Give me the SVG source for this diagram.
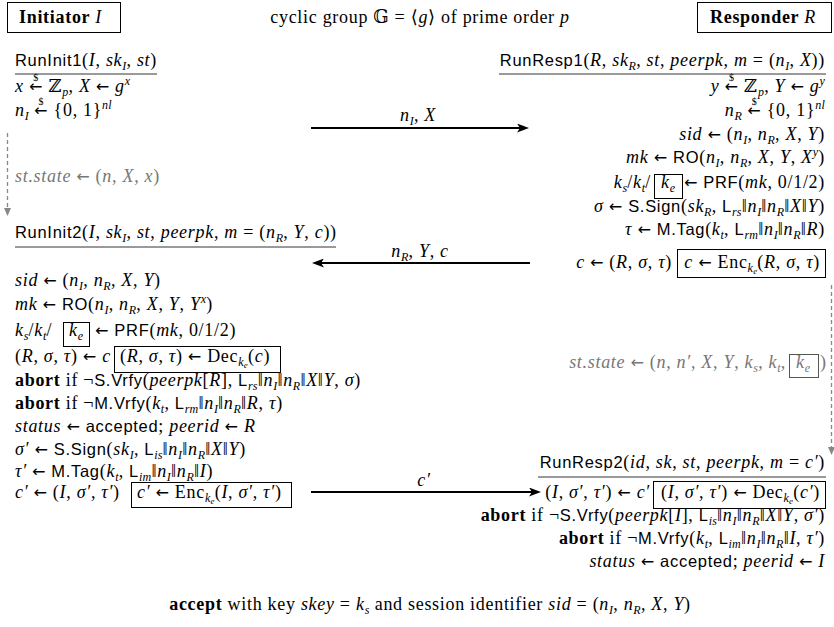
<svg xmlns="http://www.w3.org/2000/svg" width="834" height="627" viewBox="0 0 834 627">
<style>
text { font-family: "Liberation Serif", "DejaVu Serif", "DejaVu Sans", serif; font-size: 18px; letter-spacing: 0.7px; fill: #000; }
.i { font-style: italic; }
.s { font-family: "Liberation Sans", "DejaVu Sans", sans-serif; font-size: 16.5px; font-style: normal; }
.b { font-weight: bold; }
.g { fill: #777; }
.ar { font-family: "DejaVu Sans", sans-serif; font-size: 16px; font-style: normal; }
.sub { font-size: 12px; baseline-shift: -4px; letter-spacing: 0.2px; }
.sup { font-size: 12px; baseline-shift: 7px; letter-spacing: 0.2px; }
.sub2 { font-size: 9px; baseline-shift: -2px; }
.sm { font-size: 10px; font-style: normal; }
.box { fill: none; stroke: #000; stroke-width: 1; }
.gbox { fill: none; stroke: #555; stroke-width: 1; }
.ul { stroke: #000; stroke-width: 0.8; }
.msg { stroke: #000; stroke-width: 2; fill: none; marker-end: url(#ah); }
.dash { stroke: #888; stroke-width: 1.3; stroke-dasharray: 4 3; fill: none; marker-end: url(#gah); }
</style>
<defs>
<marker id="ah" viewBox="0 0 12 9" refX="5" refY="4.5" markerWidth="12" markerHeight="9" markerUnits="userSpaceOnUse" orient="auto"><path d="M0,0 L12,4.5 L0,9 L3,4.5 Z" fill="#000"/></marker>
<marker id="gah" viewBox="0 0 8 7" refX="2" refY="3.5" markerWidth="8" markerHeight="7" markerUnits="userSpaceOnUse" orient="auto"><path d="M0,0 L8,3.5 L0,7 Z" fill="#888"/></marker>
</defs>

<g id="initiator">
<rect class="box" x="7.5" y="2.5" width="113" height="30"/>
<text x="19" y="23"><tspan class="b">Initiator </tspan><tspan class="i">I</tspan></text>
</g>
<g id="group-info">
<text x="420" y="23" text-anchor="middle">cyclic group 𝔾 = ⟨<tspan class="i">g</tspan>⟩ of prime order <tspan class="i">p</tspan></text>
</g>
<g id="responder">
<rect class="box" x="697.5" y="2.5" width="134" height="30"/>
<text x="710" y="23"><tspan class="b">Responder </tspan><tspan class="i">R</tspan></text>
</g>

<g id="init1">
<text x="15" y="66"><tspan class="s">RunInit1</tspan>(<tspan class="i">I</tspan>, <tspan class="i">sk<tspan class="sub">I</tspan></tspan>, <tspan class="i">st</tspan>)</text>
<line class="ul" x1="15" y1="74" x2="157" y2="74"/>
<text x="15" y="92"><tspan class="i">x</tspan> <tspan class="ar">←</tspan><tspan class="sm" dx="-9.7" dy="-11">$</tspan><tspan dx="4.2" dy="11"> ℤ<tspan class="sub i">p</tspan>, </tspan><tspan class="i">X</tspan> <tspan class="ar">←</tspan> <tspan class="i">g<tspan class="sup">x</tspan></tspan></text>
<text x="15" y="116"><tspan class="i">n<tspan class="sub">I</tspan></tspan> <tspan class="ar">←</tspan><tspan class="sm" dx="-9.7" dy="-11">$</tspan><tspan dx="4.2" dy="11"> {0, 1}<tspan class="sup i">nl</tspan></tspan></text>
</g>

<g id="state-I">
<text class="g" x="15" y="182"><tspan class="i">st.state</tspan> <tspan class="ar">←</tspan> (<tspan class="i">n</tspan>, <tspan class="i">X</tspan>, <tspan class="i">x</tspan>)</text>
</g>

<g id="init2">
<text x="15" y="238"><tspan class="s">RunInit2</tspan>(<tspan class="i">I</tspan>, <tspan class="i">sk<tspan class="sub">I</tspan></tspan>, <tspan class="i">st</tspan>, <tspan class="i">peerpk</tspan>, <tspan class="i">m</tspan> = (<tspan class="i">n<tspan class="sub">R</tspan></tspan>, <tspan class="i">Y</tspan>, <tspan class="i">c</tspan>))</text>
<line class="ul" x1="15" y1="247" x2="336" y2="247"/>
<text x="15" y="286"><tspan class="i">sid</tspan> <tspan class="ar">←</tspan> (<tspan class="i">n<tspan class="sub">I</tspan></tspan>, <tspan class="i">n<tspan class="sub">R</tspan></tspan>, <tspan class="i">X</tspan>, <tspan class="i">Y</tspan>)</text>
<text x="15" y="310"><tspan class="i">mk</tspan> <tspan class="ar">←</tspan> <tspan class="s">RO</tspan>(<tspan class="i">n<tspan class="sub">I</tspan></tspan>, <tspan class="i">n<tspan class="sub">R</tspan></tspan>, <tspan class="i">X</tspan>, <tspan class="i">Y</tspan>, <tspan class="i">Y<tspan class="sup">x</tspan></tspan>)</text>
<text x="15" y="336"><tspan class="i">k<tspan class="sub">s</tspan></tspan>/<tspan class="i">k<tspan class="sub">t</tspan></tspan>/</text>
<rect class="box" x="63.5" y="322.5" width="26" height="24"/>
<text class="i" x="69" y="336">k<tspan class="sub">e</tspan></text>
<text x="95" y="336"><tspan class="ar">←</tspan> <tspan class="s">PRF</tspan>(<tspan class="i">mk</tspan>, 0/1/2)</text>
<text x="15" y="362">(<tspan class="i">R</tspan>, <tspan class="i">σ</tspan>, <tspan class="i">τ</tspan>) <tspan class="ar">←</tspan> <tspan class="i">c</tspan></text>
<rect class="box" x="114.5" y="346.5" width="166" height="26"/>
<text x="120" y="362">(<tspan class="i">R</tspan>, <tspan class="i">σ</tspan>, <tspan class="i">τ</tspan>) <tspan class="ar">←</tspan> Dec<tspan class="sub i">k<tspan class="sub2">e</tspan></tspan>(<tspan class="i">c</tspan>)</text>
<text x="15" y="386"><tspan class="b">abort</tspan> if ¬<tspan class="s">S.Vrfy</tspan>(<tspan class="i">peerpk</tspan>[<tspan class="i">R</tspan>], <tspan class="s">L</tspan><tspan class="sub i">rs</tspan>‖<tspan class="i">n<tspan class="sub">I</tspan></tspan>‖<tspan class="i">n<tspan class="sub">R</tspan></tspan>‖<tspan class="i">X</tspan>‖<tspan class="i">Y</tspan>, <tspan class="i">σ</tspan>)</text>
<text x="15" y="409"><tspan class="b">abort</tspan> if ¬<tspan class="s">M.Vrfy</tspan>(<tspan class="i">k<tspan class="sub">t</tspan></tspan>, <tspan class="s">L</tspan><tspan class="sub i">rm</tspan>‖<tspan class="i">n<tspan class="sub">I</tspan></tspan>‖<tspan class="i">n<tspan class="sub">R</tspan></tspan>‖<tspan class="i">R</tspan>, <tspan class="i">τ</tspan>)</text>
<text x="15" y="432"><tspan class="i">status</tspan> <tspan class="ar">←</tspan> <tspan class="s">accepted</tspan>; <tspan class="i">peerid</tspan> <tspan class="ar">←</tspan> <tspan class="i">R</tspan></text>
<text x="15" y="455"><tspan class="i">σ′</tspan> <tspan class="ar">←</tspan> <tspan class="s">S.Sign</tspan>(<tspan class="i">sk<tspan class="sub">I</tspan></tspan>, <tspan class="s">L</tspan><tspan class="sub i">is</tspan>‖<tspan class="i">n<tspan class="sub">I</tspan></tspan>‖<tspan class="i">n<tspan class="sub">R</tspan></tspan>‖<tspan class="i">X</tspan>‖<tspan class="i">Y</tspan>)</text>
<text x="15" y="477"><tspan class="i">τ′</tspan> <tspan class="ar">←</tspan> <tspan class="s">M.Tag</tspan>(<tspan class="i">k<tspan class="sub">t</tspan></tspan>, <tspan class="s">L</tspan><tspan class="sub i">im</tspan>‖<tspan class="i">n<tspan class="sub">I</tspan></tspan>‖<tspan class="i">n<tspan class="sub">R</tspan></tspan>‖<tspan class="i">I</tspan>)</text>
<text x="15" y="498"><tspan class="i">c′</tspan> <tspan class="ar">←</tspan> (<tspan class="i">I</tspan>, <tspan class="i">σ′</tspan>, <tspan class="i">τ′</tspan>)</text>
<rect class="box" x="131.5" y="482.5" width="160" height="25"/>
<text x="137" y="498"><tspan class="i">c′</tspan> <tspan class="ar">←</tspan> Enc<tspan class="sub i">k<tspan class="sub2">e</tspan></tspan>(<tspan class="i">I</tspan>, <tspan class="i">σ′</tspan>, <tspan class="i">τ′</tspan>)</text>
</g>

<g id="resp1">
<text x="825" y="66" text-anchor="end"><tspan class="s">RunResp1</tspan>(<tspan class="i">R</tspan>, <tspan class="i">sk<tspan class="sub">R</tspan></tspan>, <tspan class="i">st</tspan>, <tspan class="i">peerpk</tspan>, <tspan class="i">m</tspan> = (<tspan class="i">n<tspan class="sub">I</tspan></tspan>, <tspan class="i">X</tspan>))</text>
<line class="ul" x1="499" y1="74" x2="826" y2="74"/>
<text x="825" y="92" text-anchor="end"><tspan class="i">y</tspan> <tspan class="ar">←</tspan><tspan class="sm" dx="-9.7" dy="-11">$</tspan><tspan dx="4.2" dy="11"> ℤ<tspan class="sub i">p</tspan>, </tspan><tspan class="i">Y</tspan> <tspan class="ar">←</tspan> <tspan class="i">g<tspan class="sup">y</tspan></tspan></text>
<text x="825" y="116" text-anchor="end"><tspan class="i">n<tspan class="sub">R</tspan></tspan> <tspan class="ar">←</tspan><tspan class="sm" dx="-9.7" dy="-11">$</tspan><tspan dx="4.2" dy="11"> {0, 1}<tspan class="sup i">nl</tspan></tspan></text>
<text x="825" y="140" text-anchor="end"><tspan class="i">sid</tspan> <tspan class="ar">←</tspan> (<tspan class="i">n<tspan class="sub">I</tspan></tspan>, <tspan class="i">n<tspan class="sub">R</tspan></tspan>, <tspan class="i">X</tspan>, <tspan class="i">Y</tspan>)</text>
<text x="825" y="163" text-anchor="end"><tspan class="i">mk</tspan> <tspan class="ar">←</tspan> <tspan class="s">RO</tspan>(<tspan class="i">n<tspan class="sub">I</tspan></tspan>, <tspan class="i">n<tspan class="sub">R</tspan></tspan>, <tspan class="i">X</tspan>, <tspan class="i">Y</tspan>, <tspan class="i">X<tspan class="sup">y</tspan></tspan>)</text>
<text x="651" y="188" text-anchor="end"><tspan class="i">k<tspan class="sub">s</tspan></tspan>/<tspan class="i">k<tspan class="sub">t</tspan></tspan>/</text>
<rect class="box" x="654.5" y="174.5" width="28" height="24"/>
<text class="i" x="661" y="188">k<tspan class="sub">e</tspan></text>
<text x="825" y="188" text-anchor="end"><tspan class="ar">←</tspan> <tspan class="s">PRF</tspan>(<tspan class="i">mk</tspan>, 0/1/2)</text>
<text x="825" y="212" text-anchor="end"><tspan class="i">σ</tspan> <tspan class="ar">←</tspan> <tspan class="s">S.Sign</tspan>(<tspan class="i">sk<tspan class="sub">R</tspan></tspan>, <tspan class="s">L</tspan><tspan class="sub i">rs</tspan>‖<tspan class="i">n<tspan class="sub">I</tspan></tspan>‖<tspan class="i">n<tspan class="sub">R</tspan></tspan>‖<tspan class="i">X</tspan>‖<tspan class="i">Y</tspan>)</text>
<text x="825" y="235" text-anchor="end"><tspan class="i">τ</tspan> <tspan class="ar">←</tspan> <tspan class="s">M.Tag</tspan>(<tspan class="i">k<tspan class="sub">t</tspan></tspan>, <tspan class="s">L</tspan><tspan class="sub i">rm</tspan>‖<tspan class="i">n<tspan class="sub">I</tspan></tspan>‖<tspan class="i">n<tspan class="sub">R</tspan></tspan>‖<tspan class="i">R</tspan>)</text>
<text x="672" y="268" text-anchor="end"><tspan class="i">c</tspan> <tspan class="ar">←</tspan> (<tspan class="i">R</tspan>, <tspan class="i">σ</tspan>, <tspan class="i">τ</tspan>)</text>
<rect class="box" x="677.5" y="249.5" width="148" height="28"/>
<text x="820" y="268" text-anchor="end"><tspan class="i">c</tspan> <tspan class="ar">←</tspan> Enc<tspan class="sub i">k<tspan class="sub2">e</tspan></tspan>(<tspan class="i">R</tspan>, <tspan class="i">σ</tspan>, <tspan class="i">τ</tspan>)</text>
</g>

<g id="state-R">
<text class="g" x="786" y="368" text-anchor="end"><tspan class="i">st.state</tspan> <tspan class="ar">←</tspan> (<tspan class="i">n</tspan>, <tspan class="i">n′</tspan>, <tspan class="i">X</tspan>, <tspan class="i">Y</tspan>, <tspan class="i">k<tspan class="sub">s</tspan></tspan>, <tspan class="i">k<tspan class="sub">t</tspan></tspan>,</text>
<rect class="gbox" x="789.5" y="354.5" width="29" height="23"/>
<text class="g i" x="796" y="368">k<tspan class="sub">e</tspan></text>
<text class="g" x="820" y="368">)</text>
</g>

<g id="resp2">
<text x="825" y="468" text-anchor="end"><tspan class="s">RunResp2</tspan>(<tspan class="i">id</tspan>, <tspan class="i">sk</tspan>, <tspan class="i">st</tspan>, <tspan class="i">peerpk</tspan>, <tspan class="i">m</tspan> = <tspan class="i">c′</tspan>)</text>
<line class="ul" x1="538" y1="477" x2="826" y2="477"/>
<text x="650" y="498" text-anchor="end">(<tspan class="i">I</tspan>, <tspan class="i">σ′</tspan>, <tspan class="i">τ′</tspan>) <tspan class="ar">←</tspan> <tspan class="i">c′</tspan></text>
<rect class="box" x="653.5" y="481.5" width="172" height="27"/>
<text x="820" y="498" text-anchor="end">(<tspan class="i">I</tspan>, <tspan class="i">σ′</tspan>, <tspan class="i">τ′</tspan>) <tspan class="ar">←</tspan> Dec<tspan class="sub i">k<tspan class="sub2">e</tspan></tspan>(<tspan class="i">c′</tspan>)</text>
<text x="825" y="521" text-anchor="end"><tspan class="b">abort</tspan> if ¬<tspan class="s">S.Vrfy</tspan>(<tspan class="i">peerpk</tspan>[<tspan class="i">I</tspan>], <tspan class="s">L</tspan><tspan class="sub i">is</tspan>‖<tspan class="i">n<tspan class="sub">I</tspan></tspan>‖<tspan class="i">n<tspan class="sub">R</tspan></tspan>‖<tspan class="i">X</tspan>‖<tspan class="i">Y</tspan>, <tspan class="i">σ′</tspan>)</text>
<text x="825" y="544" text-anchor="end"><tspan class="b">abort</tspan> if ¬<tspan class="s">M.Vrfy</tspan>(<tspan class="i">k<tspan class="sub">t</tspan></tspan>, <tspan class="s">L</tspan><tspan class="sub i">im</tspan>‖<tspan class="i">n<tspan class="sub">I</tspan></tspan>‖<tspan class="i">n<tspan class="sub">R</tspan></tspan>‖<tspan class="i">I</tspan>, <tspan class="i">τ′</tspan>)</text>
<text x="825" y="567" text-anchor="end"><tspan class="i">status</tspan> <tspan class="ar">←</tspan> <tspan class="s">accepted</tspan>; <tspan class="i">peerid</tspan> <tspan class="ar">←</tspan> <tspan class="i">I</tspan></text>
</g>

<g id="accept">
<text x="430" y="610" text-anchor="middle"><tspan class="b">accept</tspan> with key <tspan class="i">skey</tspan> = <tspan class="i">k<tspan class="sub">s</tspan></tspan> and session identifier <tspan class="i">sid</tspan> = (<tspan class="i">n<tspan class="sub">I</tspan></tspan>, <tspan class="i">n<tspan class="sub">R</tspan></tspan>, <tspan class="i">X</tspan>, <tspan class="i">Y</tspan>)</text>
</g>

<g id="connectors">
<line class="msg" x1="311" y1="128" x2="522" y2="128"/>
<text x="418" y="121" text-anchor="middle"><tspan class="i">n<tspan class="sub">I</tspan></tspan>, <tspan class="i">X</tspan></text>
<line class="msg" x1="530" y1="263" x2="319" y2="263"/>
<text x="420" y="257" text-anchor="middle"><tspan class="i">n<tspan class="sub">R</tspan></tspan>, <tspan class="i">Y</tspan>, <tspan class="i">c</tspan></text>
<line class="msg" x1="311" y1="492" x2="534" y2="492"/>
<text x="424" y="486" text-anchor="middle" class="i">c′</text>
<line class="dash" x1="7.5" y1="133" x2="7.5" y2="210"/>
<line class="dash" x1="831.5" y1="285" x2="831.5" y2="449"/>
</g>
</svg>
